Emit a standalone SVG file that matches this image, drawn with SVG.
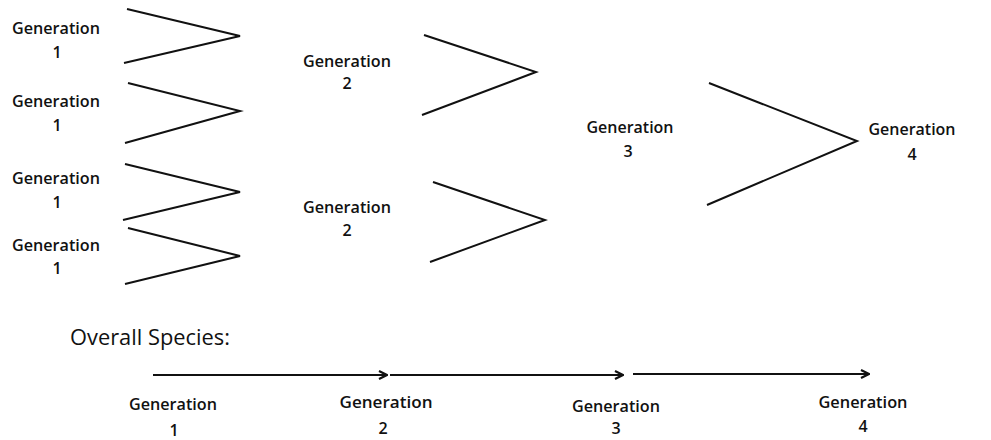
<svg xmlns="http://www.w3.org/2000/svg" width="991" height="440" viewBox="0 0 991 440">
  <style>
    .lbl { font-family: "Open Sans", "Noto Sans", "Liberation Sans", sans-serif; font-size: 16px; font-weight: 600; fill: #111; text-anchor: middle; }
    .title { font-family: "Open Sans", "Noto Sans", "Liberation Sans", sans-serif; font-size: 22px; font-weight: 500; fill: #111; }
    .merge { fill: none; stroke: #111; stroke-width: 2; stroke-linejoin: miter; stroke-linecap: butt; }
    .flow { fill: none; stroke: #111; stroke-width: 2; }
  </style>
  <defs>
    <marker id="head" viewBox="0 0 10 10" refX="9" refY="5" markerWidth="5" markerHeight="5" orient="auto" markerUnits="strokeWidth">
      <path d="M1,1 L9,5 L1,9" fill="none" stroke="#111" stroke-width="2.2"/>
    </marker>
  </defs>
  <rect width="991" height="440" fill="#fff"/>

  <!-- generation 1 nodes -->
  <g id="gen1-a">
    <text class="lbl" x="56" y="34" textLength="88" lengthAdjust="spacingAndGlyphs">Generation</text>
    <text class="lbl" x="57" y="58">1</text>
  </g>
  <g id="gen1-b">
    <text class="lbl" x="56" y="107" textLength="88" lengthAdjust="spacingAndGlyphs">Generation</text>
    <text class="lbl" x="57" y="131">1</text>
  </g>
  <g id="gen1-c">
    <text class="lbl" x="56" y="184" textLength="88" lengthAdjust="spacingAndGlyphs">Generation</text>
    <text class="lbl" x="57" y="208">1</text>
  </g>
  <g id="gen1-d">
    <text class="lbl" x="56" y="251" textLength="88" lengthAdjust="spacingAndGlyphs">Generation</text>
    <text class="lbl" x="57" y="274">1</text>
  </g>

  <!-- generation 2 nodes -->
  <g id="gen2-a">
    <text class="lbl" x="347" y="67" textLength="88" lengthAdjust="spacingAndGlyphs">Generation</text>
    <text class="lbl" x="347" y="89">2</text>
  </g>
  <g id="gen2-b">
    <text class="lbl" x="347" y="213" textLength="88" lengthAdjust="spacingAndGlyphs">Generation</text>
    <text class="lbl" x="347" y="236">2</text>
  </g>

  <!-- generation 3 node -->
  <g id="gen3">
    <text class="lbl" x="630" y="133" textLength="87" lengthAdjust="spacingAndGlyphs">Generation</text>
    <text class="lbl" x="628" y="157">3</text>
  </g>

  <!-- generation 4 node -->
  <g id="gen4">
    <text class="lbl" x="912" y="135" textLength="87" lengthAdjust="spacingAndGlyphs">Generation</text>
    <text class="lbl" x="912" y="160">4</text>
  </g>

  <!-- merging connectors -->
  <g id="connectors">
    <polyline class="merge" points="127,9 240,36 124,63"/>
    <polyline class="merge" points="128,83 240,111 125,143"/>
    <polyline class="merge" points="125,164 240,192 123,220"/>
    <polyline class="merge" points="128,228 240,256 125,284"/>
    <polyline class="merge" points="424,35 536,72 422,115"/>
    <polyline class="merge" points="433,182 545,220 430,262"/>
    <polyline class="merge" points="709,83 857,141 707,205"/>
  </g>

  <!-- overall species timeline -->
  <g id="overall-title">
    <text class="title" x="70" y="345" textLength="160" lengthAdjust="spacingAndGlyphs">Overall Species:</text>
  </g>
  <g id="timeline">
    <line class="flow" x1="153" y1="375" x2="387" y2="375" marker-end="url(#head)"/>
    <line class="flow" x1="390" y1="375" x2="623" y2="375" marker-end="url(#head)"/>
    <line class="flow" x1="633" y1="374" x2="869" y2="374" marker-end="url(#head)"/>
  </g>
  <g id="t-gen1">
    <text class="lbl" x="173" y="410" textLength="88" lengthAdjust="spacingAndGlyphs">Generation</text>
    <text class="lbl" x="174" y="436">1</text>
  </g>
  <g id="t-gen2">
    <text class="lbl" x="386" y="408" textLength="93" lengthAdjust="spacingAndGlyphs">Generation</text>
    <text class="lbl" x="383" y="434">2</text>
  </g>
  <g id="t-gen3">
    <text class="lbl" x="616" y="412" textLength="88" lengthAdjust="spacingAndGlyphs">Generation</text>
    <text class="lbl" x="616" y="434">3</text>
  </g>
  <g id="t-gen4">
    <text class="lbl" x="863" y="408" textLength="89" lengthAdjust="spacingAndGlyphs">Generation</text>
    <text class="lbl" x="863" y="432">4</text>
  </g>
</svg>
